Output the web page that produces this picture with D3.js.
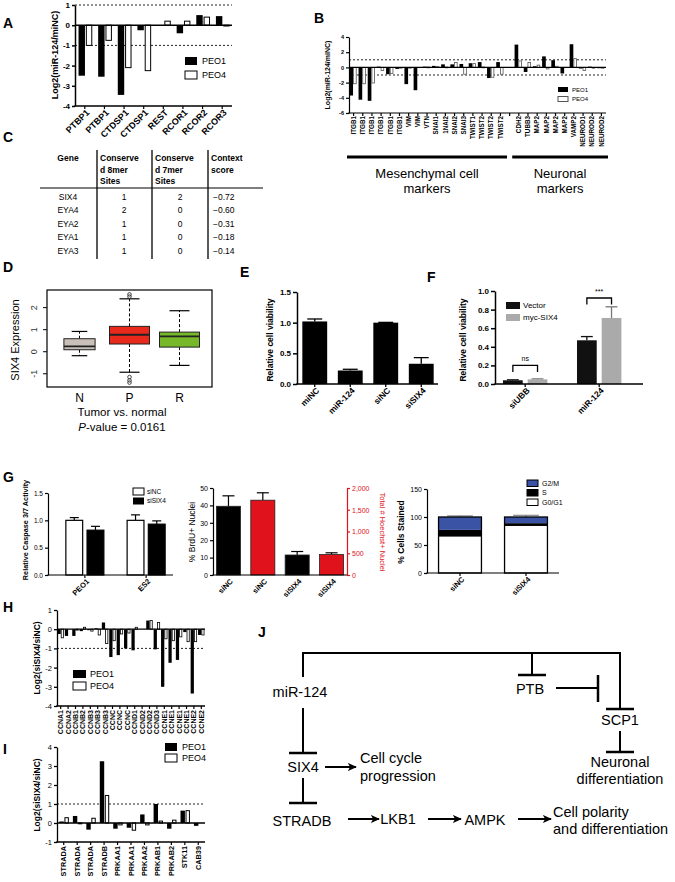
<!DOCTYPE html>
<html><head><meta charset="utf-8">
<script src="https://cdn.jsdelivr.net/npm/d3@7"></script>
<style>
body{margin:0;background:#fff;}
svg{display:block;font-family:"Liberation Sans",Arial,Helvetica,sans-serif;}
</style></head><body>
<svg id="fig" width="675" height="882"></svg>
<script>
// ---------------- DATA ----------------
const aCats = ["PTBP1","PTBP1","CTDSP1","CTDSP1","REST","RCOR1","RCOR2","RCOR3"];
const aPEO1 = [-2.5,-2.55,-3.45,-0.25,-0.03,-0.4,0.5,0.45];
const aPEO4 = [-1.0,-0.75,-2.1,-2.25,0.2,0.2,0.4,-0.03];
const aTicks = [1,0,-1,-2,-3,-4];

const bCats = ["ITGB1","ITGB1","ITGB1","ITGB1","ITGB1","ITGB1","VIM","VIM","VTN","SNAI1","1NAI2","SNAI2","SNAI3","TWIST1","TWIST2","TWIST2","TWIST2","","CDH2","TUBB3","MAP2","MAP2","MAP2","MAP2","VAMP2","NEUROD1","NEUROD2","NEUROD2"];
const bPEO1 = [-3.7,-4.25,-4.4,0.1,-0.9,-0.2,-2.2,-3.0,0.1,0.2,0.4,0.4,0.45,0.55,0.7,-1.4,0.7,null,3.0,-0.6,0.15,1.45,0.95,-0.8,3.05,-0.15,0.1,-0.1];
const bPEO4 = [-2.15,-2.15,-2.05,-0.4,-0.8,-0.05,-0.1,0,0.05,0.1,0.05,0.65,-0.9,0.5,0.05,-1.3,-0.9,null,0.85,0.65,0.3,-0.2,0.15,0,1.15,-0.4,-0.05,-0.05];
const bTicks = [4,2,0,-2,-4,-6];
const bGroupNames = [["Mesenchymal cell","markers"],["Neuronal","markers"]];
const bGroupSpans = [[0,16],[18,27]];

const cHeader = [["Gene"],["Conserve","d 8mer","Sites"],["Conserve","d 7mer","Sites"],["Context","score"]];
const cGenes = ["SIX4","EYA4","EYA2","EYA1","EYA3"];
const c8mer = [1,2,1,1,1];
const c7mer = [2,0,0,0,0];
const cScore = ["\u22120.72","\u22120.60","\u22120.31","\u22120.18","\u22120.14"];

const dGroups = ["N","P","R"];
const dLow = [-0.18,-0.93,-0.62];
const dQ1 = [0.09,0.35,0.21];
const dMed = [0.24,0.77,0.70];
const dQ3 = [0.59,1.15,0.89];
const dHigh = [0.92,2.4,1.86];
const dOutliers = [[],[2.5,2.6,-1.15,-1.3,-1.4],[]];
const dRelWidth = [0.78,1,1];
const dColors = ["#c9c1b9","#e8291c","#77b82a"];
const dTicks = [-1,0,1,2];

const eCats = ["miNC","miR-124","siNC","siSIX4"];
const eVals = [1.02,0.22,1.0,0.33];
const eErr = [0.04,0.02,0.005,0.1];
const eTicks = [0,0.5,1.0,1.5];

const fCats = ["siUBB","miR-124"];
const fSeries = ["Vector","myc-SIX4"];
const fVector = [0.04,0.47];
const fVectorErr = [0.005,0.04];
const fMyc = [0.05,0.71];
const fMycErr = [0.005,0.12];
const fTicks = [0,0.2,0.4,0.6,0.8,1.0];
const fSig = ["ns","***"];
const fSigLevel = [0.2,0.925];

const gCasCats = ["PEO1","ES2"];
const gCasSeries = ["siNC","siSIX4"];
const gCasSiNC = [1.0,1.0];
const gCasSiNCErr = [0.05,0.1];
const gCasSiSIX4 = [0.82,0.93];
const gCasSiSIX4Err = [0.07,0.06];
const gCasTicks = [0,0.5,1.0,1.5];

const gBrdCats = ["siNC","siNC","siSIX4","siSIX4"];
const gBrdKind = ["brdu","hoechst","brdu","hoechst"];
const gBrdVals = [39.5,1720,11.5,470];
const gBrdErr = [6,170,2,40];
const gBrdTicks = [0,10,20,30,40,50];
const gHoeTicks = [0,500,1000,1500,2000];

const gCycCats = ["siNC","siSIX4"];
const gCycPhases = ["G2/M","S","G0/G1"];
const gG0G1 = [65,84];
const gS = [12,5];
const gG2M = [23,11];
const gCycErr = [2,3];
const gCycTicks = [0,50,100,150];

const hCats = ["CCNA1","CCNA2","CCNB1","CCNB2","CCNB3","CCNB3","CCNB3","CCNC","CCNC","CCNC","CCND1","CCND2","CCND2","CCND3","CCNE1","CCNE1","CCNE1","CCNE1","CCNE2","CCNE2"];
const hPEO1 = [-0.25,-0.35,-0.35,-0.1,-0.05,0.05,0.35,-1.45,-1.35,-1.0,-1.1,0,0.45,-1.05,-3.0,-1.75,-1.6,-0.15,-3.35,-0.3];
const hPEO4 = [-0.45,0,-0.05,0.1,-0.1,-0.3,-0.75,-0.6,-0.25,-0.2,0.1,0,0.45,0.35,-0.5,-0.6,-0.4,-0.65,-0.65,-0.3];
const hTicks = [1,0,-1,-2,-3,-4];

const iCats = ["STRADA","STRADA","STRADA","STRADB","PRKAA1","PRKAA1","PRKAA2","PRKAB1","PRKAB2","STK11","CAB39"];
const iPEO1 = [0.08,0.37,-0.35,3.25,-0.3,-0.25,0.45,1.0,-0.3,0.65,-0.15];
const iPEO4 = [0.28,-0.03,0.25,1.45,-0.1,-0.38,-0.1,0.1,0.15,0.65,0];
const iTicks = [4,3,2,1,0,-1];

const legendSeries = ["PEO1","PEO4"];

// ---------------- HELPERS ----------------
const FONT = '"Liberation Sans", Arial, Helvetica, sans-serif';
const svg = d3.select("#fig");

function txt(x,y,s,o={}) {
  const t = svg.append("text").attr("x",x).attr("y",y).text(s)
    .attr("font-size",o.size||10).attr("font-weight",o.bold?"bold":"normal")
    .attr("text-anchor",o.anchor||"start").attr("fill",o.fill||"#000");
  if (o.rot!=null) t.attr("transform",`rotate(${o.rot},${x},${y})`);
  if (o.dy) t.attr("dy",o.dy);
  if (o.italic) t.attr("font-style","italic");
  return t;
}
function ln(x1,y1,x2,y2,w=1,c="#000",dash=null){
  const l = svg.append("line").attr("x1",x1).attr("y1",y1).attr("x2",x2).attr("y2",y2)
    .attr("stroke",c).attr("stroke-width",w);
  if (dash) l.attr("stroke-dasharray",dash);
  return l;
}
function panelLabel(t,x,y){ txt(x,y,t,{size:14,bold:true}); }

function yAxis(scale,x,ticks,o={}){
  const a = (o.right?d3.axisRight(scale):d3.axisLeft(scale)).tickValues(ticks)
    .tickSize(o.len||3).tickSizeOuter(0).tickPadding(o.pad||2).tickFormat(o.fmt||(d=>String(d)));
  const g = svg.append("g").attr("transform",`translate(${x},0)`).call(a);
  g.attr("font-size",o.size||8).attr("font-family",FONT).attr("font-weight",o.bold?"bold":"normal");
  g.select(".domain").attr("stroke",o.color||"#000").attr("stroke-width",o.w||1.5);
  g.selectAll(".tick line").attr("stroke",o.color||"#000").attr("stroke-width",o.w||1.5);
  g.selectAll(".tick text").attr("fill",o.color||"#000");
  return g;
}
function xLabels(items, y, o){
  items.forEach(([cx,s])=>{
    if(!s) return;
    if(o.mode==="diag"){
      svg.append("text").attr("transform",`translate(${cx+(o.dx||3)},${y+(o.dy||5)}) rotate(-45)`)
        .attr("text-anchor","end").attr("dy","0.35em").attr("font-size",o.size).attr("font-weight",o.bold?"bold":"normal").text(s);
    } else {
      svg.append("text").attr("transform",`translate(${cx},${y+(o.dy||3)}) rotate(-90)`)
        .attr("text-anchor","end").attr("dy","0.35em").attr("font-size",o.size).attr("font-weight",o.bold?"bold":"normal").text(s);
    }
  });
}

function groupedBars(o){
  const y = d3.scaleLinear().domain(o.domain).range([o.yBot,o.yTop]);
  const x = d3.scaleBand().domain(d3.range(o.cats.length)).range([o.x0,o.x1]);
  const bw = x.bandwidth();
  const sub = d3.scaleBand().domain([0,1]).range([bw*o.subRange[0],bw*o.subRange[1]]).paddingInner(o.subPad);
  (o.dotted||[]).forEach(v=>ln(o.x0,y(v),o.x1,y(v),1,"#222","2,2"));
  [o.s1,o.s2].forEach((s,k)=>{
    svg.append("g").selectAll("rect").data(s.map((v,i)=>({v,i})).filter(d=>d.v!=null && d.v!==0)).enter().append("rect")
      .attr("x",d=>x(d.i)+sub(k)+(k?0.5:0)).attr("width",Math.max(0.5,sub.bandwidth()-(k?1:0)))
      .attr("y",d=>y(Math.max(0,d.v))).attr("height",d=>Math.max(0.8,Math.abs(y(d.v)-y(0))))
      .attr("fill",k===0?"#000":"#fff").attr("stroke",k===0?"none":(o.whiteStroke||"#000"))
      .attr("stroke-width",k===0?0:(o.whiteStrokeW||1));
  });
  ln(o.x0,y(0),o.x1,y(0),o.zeroW||1.5);
  yAxis(y,o.x0,o.ticks,{size:o.tickFont,bold:o.tickBold,len:3,w:o.axisW||1.5});
  ln(o.x0-0.75,o.yBot,o.x1,o.yBot,o.axisW||1.5);
  const items=[];
  o.cats.forEach((c,i)=>{
    const cx = x(i)+bw/2;
    if(c!=="" || o.tickEmpty) ln(cx,o.yBot,cx,o.yBot+3,1.2);
    items.push([cx,c]);
  });
  xLabels(items,o.yBot,{mode:o.labelMode,size:o.labelFont,bold:true,dx:o.ldx,dy:o.ldy});
  return {x,y};
}

function legendBox(x,y,w,h,fill,stroke,label,size,tx){
  svg.append("rect").attr("x",x).attr("y",y).attr("width",w).attr("height",h)
    .attr("fill",fill).attr("stroke",stroke||"none").attr("stroke-width",stroke?1:0);
  txt(tx!=null?tx:x+w+5,y+h/2,label,{size:size,dy:"0.35em"});
}

// ---------------- PANEL A ----------------
panelLabel("A",3,28);
groupedBars({x0:75,x1:232,yTop:5,yBot:106,domain:[-4,1],cats:aCats,s1:aPEO1,s2:aPEO4,ticks:aTicks,
  dotted:[1,-1],subRange:[0.18,0.88],subPad:0.12,tickFont:8,tickBold:true,labelMode:"diag",labelFont:9,ldx:3,ldy:5});
txt(58,55,"Log2(miR-124/miNC)",{size:9,bold:true,anchor:"middle",rot:-90});
legendBox(185,57,12,8,"#000",null,legendSeries[0],9,202);
legendBox(185,71,12,8,"#fff","#000",legendSeries[1],9,202);

// ---------------- PANEL B ----------------
panelLabel("B",314,23);
const bS = groupedBars({x0:349,x1:606,yTop:37,yBot:113,domain:[-6,4],cats:bCats,s1:bPEO1,s2:bPEO4,ticks:bTicks,
  dotted:[1,-1],subRange:[0.04,0.84],subPad:0,tickFont:5.5,tickBold:true,labelMode:"vert",labelFont:6.3,ldy:3,
  whiteStroke:"#555",whiteStrokeW:0.8,axisW:1.2,zeroW:1.2,tickEmpty:true});
txt(330,75,"Log2(miR-124/miNC)",{size:7,bold:true,anchor:"middle",rot:-90});
legendBox(558,87,10,5,"#000",null,legendSeries[0],6,572);
legendBox(558,96.5,10,5,"#fff","#555",legendSeries[1],6,572);
bGroupSpans.forEach(([a,b],k)=>{
  const xa = bS.x(a)-2, xb = bS.x(b)+bS.x.bandwidth()+2;
  ln(xa,157,xb,157,3);
  const cx=(xa+xb)/2;
  txt(cx,178,bGroupNames[k][0],{size:13,anchor:"middle"});
  txt(cx,193,bGroupNames[k][1],{size:13,anchor:"middle"});
});

// ---------------- PANEL C ----------------
panelLabel("C",3,142);
const cColX = [68,100,155,211];
cHeader.forEach((lines,j)=>{
  lines.forEach((s,k)=>txt(cColX[j],161+k*11.5,s,{size:8.5,bold:true,anchor:j===0?"middle":"start"}));
});
[97,152,208].forEach(x=>ln(x,150,x,259,1.3));
ln(40,188,263,188,1.2);
const cRowY = d3.scalePoint().domain(cGenes).range([197,251]);
cGenes.forEach((g,i)=>{
  const y=cRowY(g);
  txt(68,y,g,{size:8.5,anchor:"middle",dy:"0.35em"});
  txt(124,y,String(c8mer[i]),{size:8.5,anchor:"middle",dy:"0.35em"});
  txt(180,y,String(c7mer[i]),{size:8.5,anchor:"middle",dy:"0.35em"});
  txt(213,y,cScore[i],{size:8.5,dy:"0.35em"});
});

// ---------------- PANEL D ----------------
panelLabel("D",3,272);
const dY = d3.scaleLinear().domain([-1.6,2.8]).range([387,290]);
const dX = d3.scalePoint().domain(dGroups).range([47,212]).padding(0.65);
svg.append("rect").attr("x",47).attr("y",290).attr("width",165).attr("height",97).attr("fill","none").attr("stroke","#000").attr("stroke-width",1.2);
dTicks.forEach(v=>{
  ln(43,dY(v),47,dY(v),1);
  txt(37,dY(v),String(v),{size:9,anchor:"middle",rot:-90,fill:"#333"});
});
dGroups.forEach((g,i)=>{
  const cx=dX(g), w=40*dRelWidth[i];
  ln(cx,dY(dQ3[i]),cx,dY(dHigh[i]),1,"#000","3,2");
  ln(cx,dY(dQ1[i]),cx,dY(dLow[i]),1,"#000","3,2");
  ln(cx-w/4,dY(dHigh[i]),cx+w/4,dY(dHigh[i]),1.2);
  ln(cx-w/4,dY(dLow[i]),cx+w/4,dY(dLow[i]),1.2);
  svg.append("rect").attr("x",cx-w/2).attr("y",dY(dQ3[i])).attr("width",w).attr("height",dY(dQ1[i])-dY(dQ3[i]))
    .attr("fill",dColors[i]).attr("stroke","#222").attr("stroke-width",1);
  ln(cx-w/2,dY(dMed[i]),cx+w/2,dY(dMed[i]),1.8,"#222");
  dOutliers[i].forEach(v=>svg.append("circle").attr("cx",cx).attr("cy",dY(v)).attr("r",1.8).attr("fill","none").attr("stroke","#333").attr("stroke-width",0.9));
  txt(cx,402,g,{size:12,anchor:"middle"});
});
txt(19,340,"SIX4 Expression",{size:11,anchor:"middle",rot:-90});
txt(122,416,"Tumor vs. normal",{size:11.5,anchor:"middle"});
{
  const t = svg.append("text").attr("x",122).attr("y",431).attr("text-anchor","middle").attr("font-size",11.5);
  t.append("tspan").attr("font-style","italic").text("P");
  t.append("tspan").text("-value = 0.0161");
}

// ---------------- PANEL E ----------------
panelLabel("E",240,277);
const eY = d3.scaleLinear().domain([0,1.5]).range([384,292]);
const eX = d3.scaleBand().domain(eCats).range([297,439]).paddingInner(0.3).paddingOuter(0.15);
eCats.forEach((c,i)=>{
  const x0=eX(c), bw=eX.bandwidth(), cx=x0+bw/2;
  ln(cx,eY(eVals[i]),cx,eY(eVals[i]+eErr[i]),1.3);
  ln(cx-bw*0.3,eY(eVals[i]+eErr[i]),cx+bw*0.3,eY(eVals[i]+eErr[i]),1.3);
  svg.append("rect").attr("x",x0).attr("y",eY(eVals[i])).attr("width",bw).attr("height",eY(0)-eY(eVals[i])).attr("fill","#000");
  ln(cx,384,cx,387,1.3);
});
yAxis(eY,297,eTicks,{size:8,bold:true,fmt:d3.format(".1f"),len:4,pad:2});
ln(296.3,384,438,384,1.5);
xLabels(eCats.map(c=>[eX(c)+eX.bandwidth()/2,c]),384,{mode:"diag",size:8.5,bold:true,dx:3,dy:5});
txt(273,340,"Relative cell viability",{size:8.5,bold:true,anchor:"middle",rot:-90});

// ---------------- PANEL F ----------------
panelLabel("F",427,282);
const fY = d3.scaleLinear().domain([0,1]).range([384,291]);
const fX = d3.scaleBand().domain(fCats).range([495,643]).paddingInner(0.4).paddingOuter(0.2).align(0.27);
const fSub = d3.scaleBand().domain(fSeries).range([0,fX.bandwidth()]).paddingInner(0.2);
const fColors = ["#111","#aaa"], fErrColors=["#111","#777"];
[[fVector,fVectorErr],[fMyc,fMycErr]].forEach(([vals,errs],k)=>{
  fCats.forEach((c,i)=>{
    const x0=fX(c)+fSub(fSeries[k]), bw=fSub.bandwidth(), cx=x0+bw/2;
    ln(cx,fY(vals[i]),cx,fY(vals[i]+errs[i]),1.3,fErrColors[k]);
    ln(cx-bw*0.3,fY(vals[i]+errs[i]),cx+bw*0.3,fY(vals[i]+errs[i]),1.3,fErrColors[k]);
    svg.append("rect").attr("x",x0).attr("y",fY(vals[i])).attr("width",bw).attr("height",fY(0)-fY(vals[i])).attr("fill",fColors[k]);
  });
});
fCats.forEach(c=>{const cx=fX(c)+fX.bandwidth()/2; ln(cx,384,cx,387,1.3);});
yAxis(fY,495,fTicks,{size:8,bold:true,fmt:d3.format(".1f"),len:4,pad:2});
ln(494.3,384,643,384,1.5);
xLabels(fCats.map(c=>[fX(c)+fX.bandwidth()/2,c]),384,{mode:"diag",size:8.5,bold:true,dx:3,dy:5});
txt(466,340,"Relative cell viability",{size:8.5,bold:true,anchor:"middle",rot:-90});
fCats.forEach((c,i)=>{
  const xa=fX(c)+fSub(fSeries[0])+fSub.bandwidth()/2, xb=fX(c)+fSub(fSeries[1])+fSub.bandwidth()/2;
  const yt=fY(fSigLevel[i]), yl=fY(fSigLevel[i]-0.07);
  svg.append("path").attr("d",`M${xa},${yl}V${yt}H${xb}V${yl}`).attr("fill","none").attr("stroke","#000").attr("stroke-width",1.3);
  txt((xa+xb)/2,yt-4,fSig[i],{size:7,anchor:"middle"});
});
legendBox(506,302,14,7,fColors[0],null,fSeries[0],8,523);
legendBox(506,314,14,7,fColors[1],null,fSeries[1],8,523);

// ---------------- PANEL G ----------------
panelLabel("G",3,482);
// caspase
const gcY = d3.scaleLinear().domain([0,1.5]).range([575,493]);
const gcX = d3.scaleBand().domain(gCasCats).range([53,178]).paddingInner(0.36).paddingOuter(0.2);
const gcSub = d3.scaleBand().domain(gCasSeries).range([0,gcX.bandwidth()]).paddingInner(0.15);
[[gCasSiNC,gCasSiNCErr,"#fff"],[gCasSiSIX4,gCasSiSIX4Err,"#000"]].forEach(([vals,errs,fill],k)=>{
  gCasCats.forEach((c,i)=>{
    const x0=gcX(c)+gcSub(gCasSeries[k]), bw=gcSub.bandwidth(), cx=x0+bw/2;
    ln(cx,gcY(vals[i]),cx,gcY(vals[i]+errs[i]),1.2);
    ln(cx-bw*0.25,gcY(vals[i]+errs[i]),cx+bw*0.25,gcY(vals[i]+errs[i]),1.2);
    svg.append("rect").attr("x",x0+0.6).attr("y",gcY(vals[i])).attr("width",bw-1.2).attr("height",gcY(0)-gcY(vals[i]))
      .attr("fill",fill).attr("stroke","#000").attr("stroke-width",1.2);
  });
});
gCasCats.forEach(c=>{const cx=gcX(c)+gcX.bandwidth()/2; ln(cx,575,cx,578,1.2);});
yAxis(gcY,48,gCasTicks,{size:6.5,fmt:d3.format(".1f"),len:3,pad:2,w:1.2});
ln(47.4,575,173,575,1.2);
xLabels(gCasCats.map(c=>[gcX(c)+gcX.bandwidth()/2,c]),575,{mode:"diag",size:7.5,bold:true,dx:3,dy:5});
txt(28,530,"Relative Caspase 3/7 Activity",{size:7.3,bold:true,anchor:"middle",rot:-90});
legendBox(133,488,11,7,"#fff","#000",gCasSeries[0],6.5,147);
legendBox(133,497.5,11,7,"#000",null,gCasSeries[1],6.5,147);

// BrdU
const gbY = d3.scaleLinear().domain([0,50]).range([575,488]);
const gbY2 = d3.scaleLinear().domain([0,2000]).range([575,488]);
const gbX = d3.scaleBand().domain(d3.range(gBrdCats.length)).range([213,347]).paddingInner(0.3).paddingOuter(0.1);
const brdRed="#e0121b";
gBrdCats.forEach((c,i)=>{
  const sc = gBrdKind[i]==="brdu"?gbY:gbY2;
  const x0=gbX(i), bw=gbX.bandwidth(), cx=x0+bw/2;
  ln(cx,sc(gBrdVals[i]),cx,sc(gBrdVals[i]+gBrdErr[i]),1.2);
  ln(cx-bw*0.25,sc(gBrdVals[i]+gBrdErr[i]),cx+bw*0.25,sc(gBrdVals[i]+gBrdErr[i]),1.2);
  svg.append("rect").attr("x",x0).attr("y",sc(gBrdVals[i])).attr("width",bw).attr("height",575-sc(gBrdVals[i]))
    .attr("fill",gBrdKind[i]==="brdu"?"#000":brdRed).attr("stroke","#222").attr("stroke-width",0.8);
});
yAxis(gbY,213,gBrdTicks,{size:7,len:3,pad:2,w:1.2});
yAxis(gbY2,347,gHoeTicks,{size:7,len:3,pad:2,w:1.2,right:true,color:brdRed,fmt:d3.format(",")});
ln(212.4,575,347,575,1.2);
xLabels(gBrdCats.map((c,i)=>[gbX(i)+gbX.bandwidth()/2,c]),575,{mode:"diag",size:7.5,bold:true,dx:3,dy:5});
txt(195,532,"% BrdU+ Nuclei",{size:8.5,anchor:"middle",rot:-90});
txt(380,532,"Total # Hoechst+ Nuclei",{size:7.5,anchor:"middle",rot:90,fill:brdRed});

// cell cycle
const gyY = d3.scaleLinear().domain([0,150]).range([573,489]);
const gyX = d3.scaleBand().domain(gCycCats).range([427,559]).paddingInner(0.35).paddingOuter(0.175);
const cycFill = {"G2/M":"#3a53a4","S":"#000","G0/G1":"#fff"};
gCycCats.forEach((c,i)=>{
  const x0=gyX(c), bw=gyX.bandwidth(), cx=x0+bw/2;
  const stack=[["G0/G1",gG0G1[i]],["S",gS[i]],["G2/M",gG2M[i]]];
  let base=0;
  stack.forEach(([p,v])=>{
    svg.append("rect").attr("x",x0).attr("y",gyY(base+v)).attr("width",bw).attr("height",gyY(base)-gyY(base+v))
      .attr("fill",cycFill[p]).attr("stroke","none");
    base+=v;
  });
  ln(cx,gyY(base),cx,gyY(base+gCycErr[i]),1.2,"#888");
  ln(cx-bw*0.3,gyY(base+gCycErr[i]),cx+bw*0.3,gyY(base+gCycErr[i]),1.2,"#888");
  svg.append("rect").attr("x",x0).attr("y",gyY(base)).attr("width",bw).attr("height",gyY(0)-gyY(base))
    .attr("fill","none").attr("stroke","#000").attr("stroke-width",1.3);
  ln(cx,573,cx,576,1.2);
});
yAxis(gyY,427,gCycTicks,{size:7,len:3,pad:2,w:1.2});
ln(426.4,573,559,573,1.2);
xLabels(gCycCats.map(c=>[gyX(c)+gyX.bandwidth()/2,c]),573,{mode:"diag",size:7.5,bold:true,dx:3,dy:5});
txt(404,532,"% Cells Stained",{size:8.5,bold:true,anchor:"middle",rot:-90});
gCycPhases.forEach((p,k)=>legendBox(527,480+k*9.5,11,6.5,cycFill[p],"#000",p,7,542));

// ---------------- PANEL H ----------------
panelLabel("H",3,612);
groupedBars({x0:57,x1:205,yTop:610,yBot:706,domain:[-4,1],cats:hCats,s1:hPEO1,s2:hPEO4,ticks:hTicks,
  dotted:[-1],subRange:[0.06,0.94],subPad:0,tickFont:7.5,tickBold:false,labelMode:"vert",labelFont:7,ldy:4,
  whiteStroke:"#000",whiteStrokeW:0.8,axisW:1.3,zeroW:1.3});
txt(40,658,"Log2(siSIX4/siNC)",{size:8.5,bold:true,anchor:"middle",rot:-90});
legendBox(73,670,13,8,"#000",null,legendSeries[0],9,90);
legendBox(73,682,13,8,"#fff","#000",legendSeries[1],9,90);

// ---------------- PANEL I ----------------
panelLabel("I",3,754);
groupedBars({x0:57,x1:205,yTop:747,yBot:842,domain:[-1,4],cats:iCats,s1:iPEO1,s2:iPEO4,ticks:iTicks,
  dotted:[1],subRange:[0.18,0.88],subPad:0.12,tickFont:7.5,tickBold:false,labelMode:"vert",labelFont:7.3,ldy:4,
  whiteStroke:"#000",whiteStrokeW:1,axisW:1.3,zeroW:1.3});
txt(40,795,"Log2(siSIX4/siNC)",{size:8.5,bold:true,anchor:"middle",rot:-90});
legendBox(165,743,12,8,"#000",null,legendSeries[0],9,182);
legendBox(165,754,12,8,"#fff","#000",legendSeries[1],9,182);

// ---------------- PANEL J ----------------
panelLabel("J",258,637);
const defs = svg.append("defs");
defs.append("marker").attr("id","arr").attr("viewBox","0 0 10 10").attr("refX",9).attr("refY",5)
  .attr("markerWidth",4.5).attr("markerHeight",4.5).attr("orient","auto")
  .append("path").attr("d","M0,0.5 L10,5 L0,9.5 L2.5,5 Z").attr("fill","#000");
const jW=2;
function tbarH(x,y,half){ ln(x-half,y,x+half,y,2.5); }
function arrow(x1,x2,y){ ln(x1,y,x2,y,jW).attr("marker-end","url(#arr)"); }
const jText = [
  ["miR-124",300,692,"middle"],["PTB",530,689,"middle"],["SCP1",620,720,"middle"],
  ["SIX4",303,767,"middle"],["Cell cycle",360,758,"start"],["progression",360,776,"start"],
  ["Neuronal",620,762,"middle"],["differentiation",620,779,"middle"],
  ["STRADB",302,821,"middle"],["LKB1",398,819,"middle"],["AMPK",485,820,"middle"],
  ["Cell polarity",553,812,"start"],["and differentiation",553,829,"start"]
];
jText.forEach(([s,x,y,a])=>txt(x,y,s,{size:14.5,anchor:a,dy:"0.35em"}));
svg.append("path").attr("d","M303,677 V653 H620 V709").attr("fill","none").attr("stroke","#000").attr("stroke-width",jW);
ln(532,653,532,675,jW); tbarH(532,675,14);
tbarH(620,709,14);
ln(556,688,598,688,jW); ln(598,675,598,702,2.5);
ln(620,731,620,752,jW); tbarH(620,752,14);
ln(303,708,303,753,jW); tbarH(303,753,14);
arrow(325,356,767);
ln(303,778,303,803,jW); tbarH(303,803,14);
arrow(348,379,819);
arrow(428,461,819);
arrow(518,551,819);
</script>
</body></html>
